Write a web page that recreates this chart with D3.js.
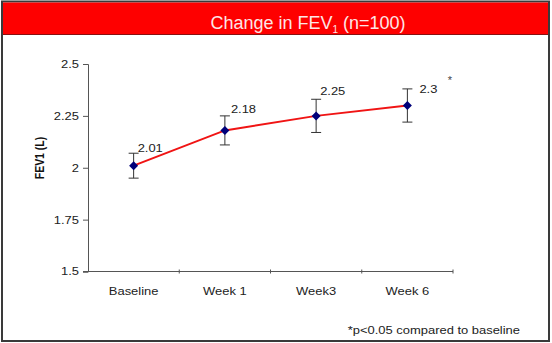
<!DOCTYPE html>
<html>
<head>
<meta charset="utf-8">
<script src="https://cdn.jsdelivr.net/npm/d3@7"></script>
<style>
  html, body { margin: 0; padding: 0; background: #fff; }
  svg { display: block; font-family: "Liberation Sans", Arial, sans-serif; }
</style>
</head>
<body>
<svg id="chart" width="552" height="343"></svg>
<script>
// Time points and mean FEV1 (litres) with error bar half-widths
const timepoints = ["Baseline", "Week 1", "Week3", "Week 6"];
const fev1Mean = [2.01, 2.18, 2.25, 2.30];
const fev1Err = [0.06, 0.07, 0.08, 0.08];
const yTicks = [1.5, 1.75, 2, 2.25, 2.5];
// Per-label nudges for the value annotations [dx, dy]
const labelNudge = [[4, -14], [6, -17], [4, -21], [12, -13]];

const svg = d3.select("#chart");
const FS = 10.8;      // body text size
const WIDEN = 1.2;    // horizontal widening of body text

// Move a text element's x into a transform so it can be widened about its anchor
function widen(sel) {
  sel.each(function () {
    const t = d3.select(this);
    const tx = +t.attr("x") || 0;
    const ty = +t.attr("y") || 0;
    t.attr("x", 0).attr("y", 0)
      .attr("transform", `translate(${tx},${ty}) scale(${WIDEN},1)`);
  });
}

// Frame and red header band
svg.append("rect").attr("x", 2).attr("y", 1.5).attr("width", 547).attr("height", 339.5)
  .attr("fill", "#fff").attr("stroke", "#3a3a3a").attr("stroke-width", 2);
svg.append("rect").attr("x", 3).attr("y", 2.5).attr("width", 545).attr("height", 32)
  .attr("fill", "#fe0000");
svg.append("line").attr("x1", 3).attr("x2", 548).attr("y1", 34.5).attr("y2", 34.5)
  .attr("stroke", "#8a1010").attr("stroke-width", 1);

const title = svg.append("text").attr("x", 308).attr("y", 29)
  .attr("text-anchor", "middle").attr("fill", "#fde6e6").attr("font-size", 18);
title.append("tspan").text("Change in FEV");
title.append("tspan").attr("font-size", 10).attr("dy", 4).text("1");
title.append("tspan").attr("dy", -4).text(" (n=100)");

// Plot area
const plotL = 88, plotR = 453, plotT = 64, plotB = 271.5;
const x = d3.scaleBand().domain(timepoints).range([plotL, plotR]);
const y = d3.scaleLinear().domain([1.5, 2.5]).range([plotB, plotT]);

const yAxis = svg.append("g").attr("transform", `translate(${plotL},0)`)
  .call(d3.axisLeft(y).tickValues(yTicks).tickSize(5).tickPadding(4)
    .tickFormat(d => d3.format("")(d)));
const xAxis = svg.append("g").attr("transform", `translate(0,${plotB})`)
  .call(d3.axisBottom(x).tickSize(0).tickPadding(16));
// category separators on the x axis
xAxis.selectAll(".sep").data(timepoints).enter().append("line")
  .attr("x1", d => x(d) + x.bandwidth()).attr("x2", d => x(d) + x.bandwidth())
  .attr("y1", -2).attr("y2", 2).attr("stroke", "#555");

[yAxis, xAxis].forEach(g => {
  g.select(".domain").attr("stroke", "#555");
  g.selectAll(".tick line").attr("stroke", "#555");
  g.selectAll(".tick text").attr("fill", "#222").attr("font-size", FS)
    .attr("font-family", "Liberation Sans, Arial, sans-serif").call(widen);
});
xAxis.select(".domain").attr("d", `M${plotL - 5},0H${plotR}`);

// Y axis title
svg.append("text").attr("transform", "translate(44,158) rotate(-90) scale(1,1.2)")
  .attr("text-anchor", "middle").attr("font-weight", "bold").attr("font-size", 10.5)
  .attr("fill", "#111").text("FEV1 (L)");

const cx = d => x(d) + x.bandwidth() / 2;
const pts = timepoints.map((t, i) => ({ t, v: fev1Mean[i], e: fev1Err[i], n: labelNudge[i] }));

// Error bars
const eb = svg.append("g").attr("stroke", "#333").attr("stroke-width", 1);
pts.forEach(p => {
  const X = cx(p.t);
  eb.append("line").attr("x1", X).attr("x2", X).attr("y1", y(p.v + p.e)).attr("y2", y(p.v - p.e));
  [p.v + p.e, p.v - p.e].forEach(v => {
    eb.append("line").attr("x1", X - 5).attr("x2", X + 5).attr("y1", y(v)).attr("y2", y(v));
  });
});

// Mean line
svg.append("path").datum(pts)
  .attr("d", d3.line().x(p => cx(p.t)).y(p => y(p.v)))
  .attr("fill", "none").attr("stroke", "#f01414").attr("stroke-width", 2);

// Diamond markers
svg.selectAll(".mk").data(pts).enter().append("path")
  .attr("transform", p => `translate(${cx(p.t)},${y(p.v)})`)
  .attr("d", "M0,-4.5L4.5,0L0,4.5L-4.5,0Z").attr("fill", "#00007a");

// Value labels
svg.selectAll(".vl").data(pts).enter().append("text")
  .attr("x", p => cx(p.t) + p.n[0]).attr("y", p => y(p.v) + p.n[1])
  .attr("font-size", FS).attr("fill", "#222").text(p => d3.format("")(p.v))
  .call(widen);

// Significance marker and footnote
svg.append("text").attr("x", 450).attr("y", 84).attr("text-anchor", "middle")
  .attr("font-size", 11).attr("fill", "#444").text("*");
svg.append("text").attr("x", 520).attr("y", 334).attr("text-anchor", "end")
  .attr("font-size", FS).attr("fill", "#222").text("*p<0.05 compared to baseline")
  .call(widen);
</script>
</body>
</html>
